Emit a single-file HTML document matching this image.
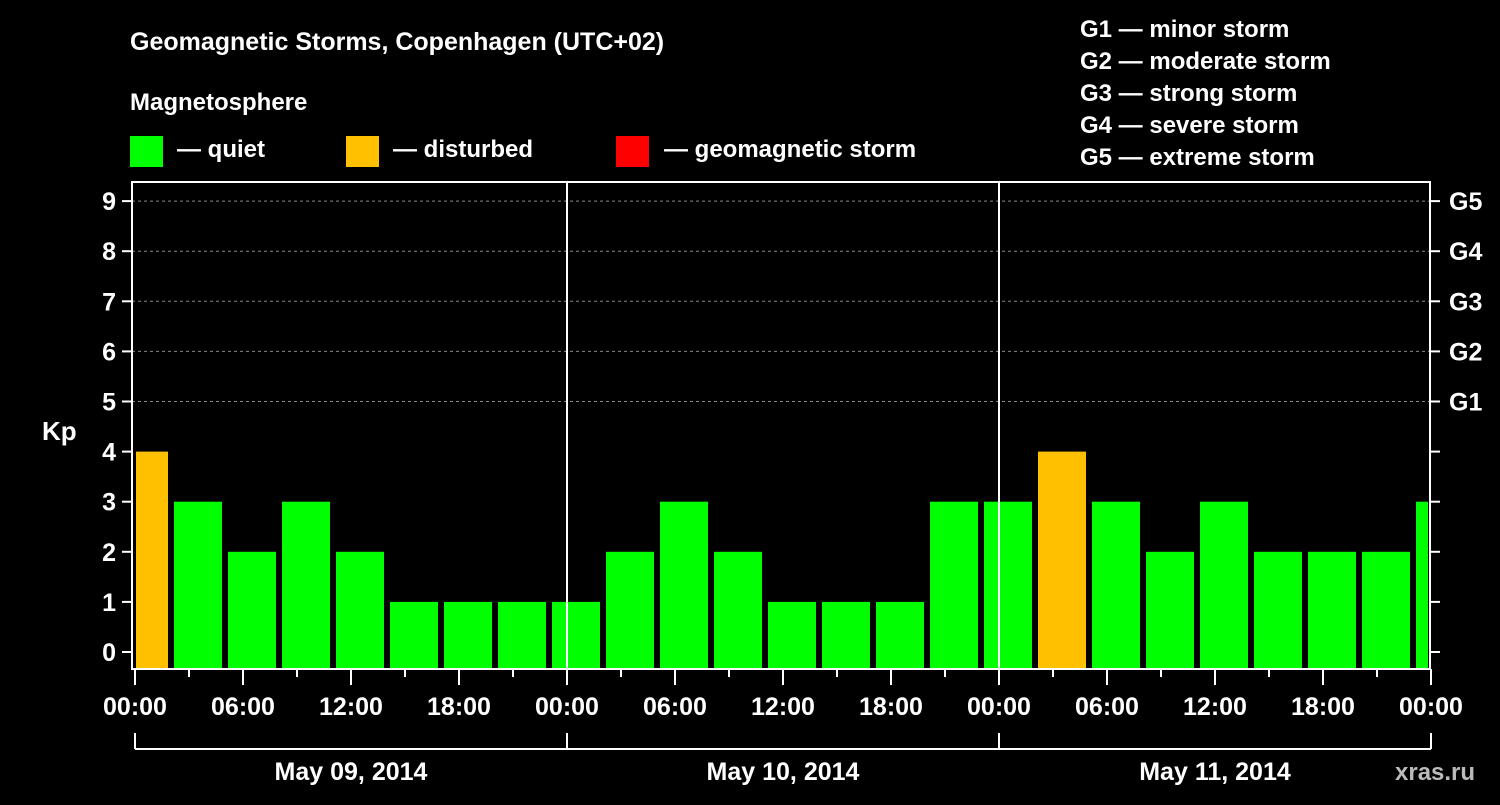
<!DOCTYPE html>
<html><head><meta charset="utf-8"><style>
body{margin:0;background:#000;width:1500px;height:800px;overflow:hidden}
svg text{font-family:"Liberation Sans",sans-serif;font-weight:bold;fill:#fff}
</style></head><body>
<svg id="c" width="1500" height="800">
<text x="130" y="50" font-size="25">Geomagnetic Storms, Copenhagen (UTC+02)</text>
<text x="130" y="110" font-size="24">Magnetosphere</text>
<rect x="130" y="136" width="33" height="31" fill="#00ff00"/>
<text x="177" y="157" font-size="24">— quiet</text>
<rect x="346" y="136" width="33" height="31" fill="#ffc000"/>
<text x="393" y="157" font-size="24">— disturbed</text>
<rect x="616" y="136" width="33" height="31" fill="#ff0000"/>
<text x="664" y="157" font-size="24">— geomagnetic storm</text>
<g font-size="24">
<text x="1080" y="37">G1 — minor storm</text>
<text x="1080" y="69">G2 — moderate storm</text>
<text x="1080" y="101">G3 — strong storm</text>
<text x="1080" y="133">G4 — severe storm</text>
<text x="1080" y="165">G5 — extreme storm</text>
</g>
<text x="42" y="440" font-size="26">Kp</text>
<text x="1395" y="780" font-size="24" fill="#bbb" style="fill:#bbb">xras.ru</text>
<g id="plot"></g>
</svg>
<script>
const kpValues=[4,3,2,3,2,1,1,1,1,2,3,2,1,1,1,3,3,4,3,2,3,2,2,2,3];
const yTicks=[0,1,2,3,4,5,6,7,8,9];
const gLabels=["G1","G2","G3","G4","G5"];
const xTickLabels=["00:00","06:00","12:00","18:00","00:00","06:00","12:00","18:00","00:00","06:00","12:00","18:00","00:00"];
const dayLabels=["May 09, 2014","May 10, 2014","May 11, 2014"];
const L=132,R=1430,T=182,B=669,X0=135,PXH=18;
const y=v=>652-v*50.1;
const x=h=>X0+h*PXH;
const NS="http://www.w3.org/2000/svg";
const g=document.getElementById('plot');
function mk(t,a){const e=document.createElementNS(NS,t);for(const k in a)e.setAttribute(k,a[k]);g.appendChild(e);return e;}
// grid
for(let v=5;v<=9;v++){const e=mk('line',{x1:L,x2:R,y1:y(v),y2:y(v),stroke:'#888','stroke-dasharray':'3,3','stroke-width':1});

}
// bars
kpValues.forEach((v,i)=>{const c=x(0.5+3*i);let x1=Math.max(c-24,L+4),x2=Math.min(c+24,R-2);
const e=mk('rect',{x:x1,y:y(v),width:x2-x1,height:B-1-y(v),fill:v>=5?'#ff0000':(v>=4?'#ffc000':'#00ff00')});

});
// day separators
[1,2].forEach(d=>{const e=mk('line',{x1:x(24*d),x2:x(24*d),y1:T,y2:B,stroke:'#fff','stroke-width':2});

});
// frame
const f=mk('rect',{x:L,y:T,width:R-L,height:B-T,fill:'none',stroke:'#fff','stroke-width':2});


yTicks.forEach(v=>{mk('line',{x1:L-10,x2:L,y1:y(v),y2:y(v),stroke:'#fff','stroke-width':2});
mk('line',{x1:R,x2:R+10,y1:y(v),y2:y(v),stroke:'#fff','stroke-width':2});
const t=mk('text',{x:L-16,y:y(v)+9,'font-size':25,'text-anchor':'end'});t.textContent=v;

});
gLabels.forEach((s,i)=>{const t=mk('text',{x:R+19,y:y(5+i)+9,'font-size':25});t.textContent=s;

});
for(let h=0;h<=72;h+=3){const major=h%6==0;mk('line',{x1:x(h),x2:x(h),y1:B,y2:B+(major?16:8),stroke:'#fff','stroke-width':2});}
xTickLabels.forEach((s,i)=>{const t=mk('text',{x:x(6*i),y:715,'font-size':25,'text-anchor':'middle'});t.textContent=s;

});
mk('line',{x1:x(0),x2:x(72),y1:749,y2:749,stroke:'#fff','stroke-width':2});
for(let d=0;d<=3;d++)mk('line',{x1:x(24*d),x2:x(24*d),y1:733,y2:749,stroke:'#fff','stroke-width':2});
dayLabels.forEach((s,i)=>{const t=mk('text',{x:x(24*i+12),y:780,'font-size':25,'text-anchor':'middle'});t.textContent=s;

});
</script>
</body></html>
